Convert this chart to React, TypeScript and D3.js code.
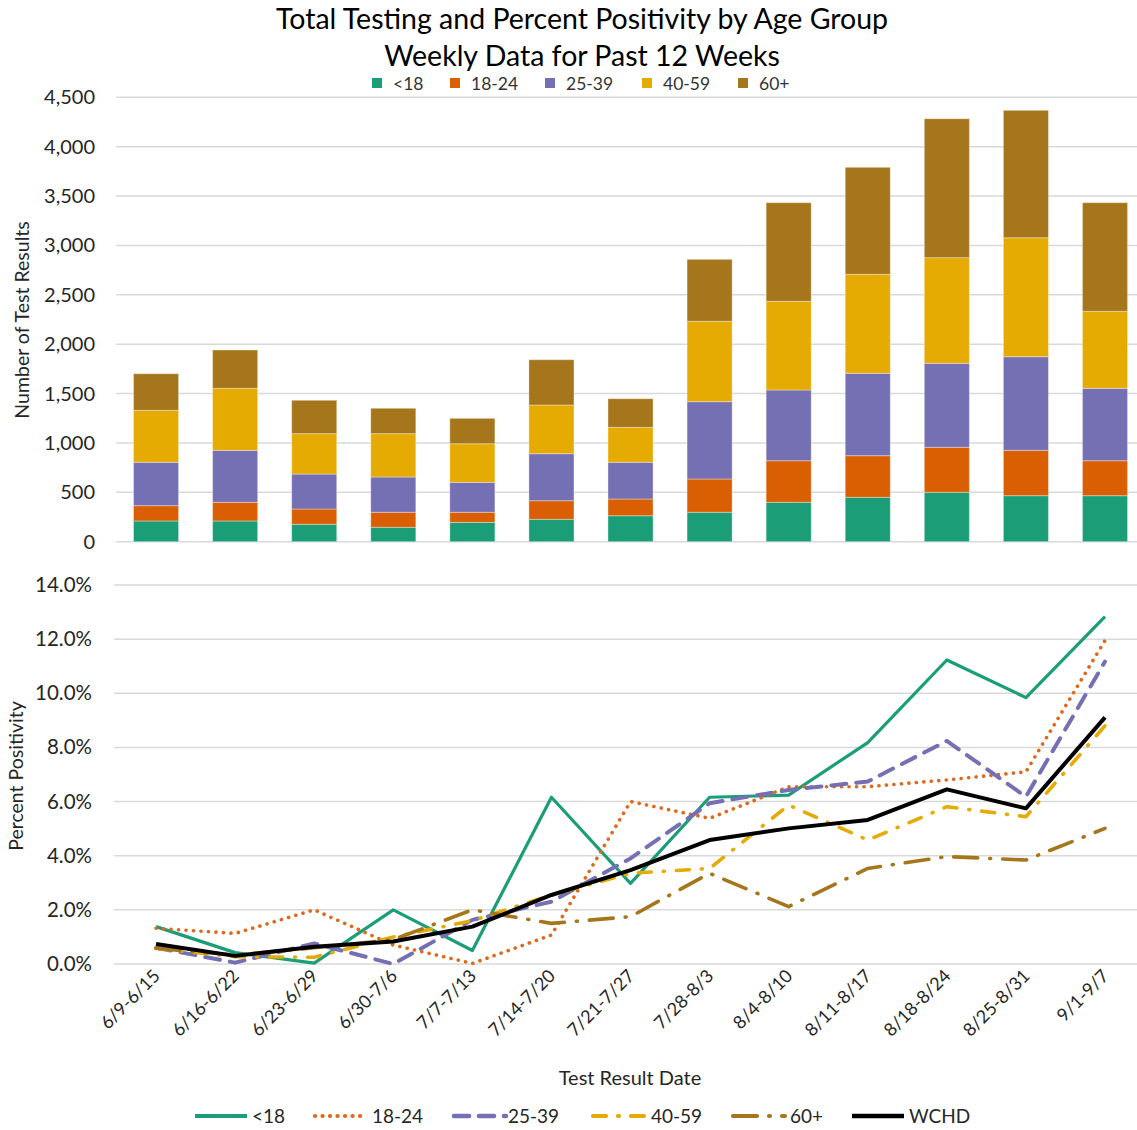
import React from "react";
import * as d3 from "d3";

const weeks = ["6/9-6/15","6/16-6/22","6/23-6/29","6/30-7/6","7/7-7/13","7/14-7/20","7/21-7/27","7/28-8/3","8/4-8/10","8/11-8/17","8/18-8/24","8/25-8/31","9/1-9/7"];
const ageGroups = ["<18","18-24","25-39","40-59","60+"];
const tests_u18 = [210,210,176,146,196,227,263,298,399,450,500,466,466];
const tests_18_24 = [155,189,155,152,102,188,169,337,421,421,456,459,354];
const tests_25_39 = [439,526,354,357,303,476,372,783,716,834,850,948,733];
const tests_40_59 = [526,628,409,439,391,493,354,814,898,1003,1070,1205,780];
const tests_60p = [371,388,338,257,257,459,290,627,999,1083,1407,1290,1100];

const pos_u18 = [1.38,0.42,0.03,2.0,0.5,6.16,2.98,6.16,6.24,8.18,11.23,9.84,12.83];
const pos_18_24 = [1.32,1.13,2.0,0.7,0.02,1.07,6.0,5.38,6.55,6.55,6.8,7.1,11.95];
const pos_25_39 = [0.6,0.05,0.76,0.0,1.63,2.3,3.9,5.94,6.43,6.74,8.24,6.18,11.17];
const pos_40_59 = [0.58,0.27,0.25,1.0,1.6,2.55,3.35,3.53,5.87,4.58,5.81,5.44,8.8];
const pos_60p = [0.58,0.33,0.6,0.9,2.0,1.5,1.75,3.35,2.12,3.53,3.97,3.84,5.01];
const pos_wchd = [0.74,0.3,0.64,0.83,1.38,2.55,3.47,4.58,5.01,5.32,6.45,5.75,9.11];

const barTicks = [0,500,1000,1500,2000,2500,3000,3500,4000,4500];
const pctTicks = [0,2,4,6,8,10,12,14];

const colors = ["#1b9e77","#d95f02","#7570b3","#e6ab02","#a6761d"];
const FONT = "Lato, 'Open Sans', sans-serif";

const lineSeries = [
  { name: "<18", values: pos_u18, color: "#1b9e77", width: 3.2, dash: "", cap: "butt" },
  { name: "18-24", values: pos_18_24, color: "#e0681a", width: 3.6, dash: "0.1 7.4", cap: "round" },
  { name: "25-39", values: pos_25_39, color: "#7570b3", width: 4, dash: "15 10", cap: "round" },
  { name: "40-59", values: pos_40_59, color: "#e6ab02", width: 3.6, dash: "13 12 1 12", cap: "round" },
  { name: "60+", values: pos_60p, color: "#a6761d", width: 3.6, dash: "24 12 1 12", cap: "round" },
  { name: "WCHD", values: pos_wchd, color: "#000000", width: 4, dash: "", cap: "butt" },
];

export default function App() {
  const W = 1137, H = 1130;
  const x = d3.scaleBand<string>().domain(weeks).range([116.5, 116.5 + 13 * 79.08]).paddingInner(0.43).paddingOuter(0.215);
  const cx = (w: string) => (x(w) as number) + x.bandwidth() / 2;
  const yTop = d3.scaleLinear().domain([0, 4500]).range([541.7, 97.3]);
  const yBot = d3.scaleLinear().domain([0, 14]).range([964, 585]);

  const rows = weeks.map((w, i) => ({
    week: w,
    "<18": tests_u18[i], "18-24": tests_18_24[i], "25-39": tests_25_39[i], "40-59": tests_40_59[i], "60+": tests_60p[i],
  }));
  const stacked = d3.stack<any>().keys(ageGroups)(rows);

  const line = d3.line<number>().x((_, i) => cx(weeks[i])).y((d) => yBot(d));

  const topLegendX = [372, 450, 545, 642, 738];
  const botLegend = [
    { lx: 195, tx: 252 },
    { lx: 315, tx: 372 },
    { lx: 454, tx: 508 },
    { lx: 593, tx: 651 },
    { lx: 733, tx: 790 },
    { lx: 852, tx: 909 },
  ];

  return (
    <svg width={W} height={H} style={{ position: "absolute", left: 0, top: 0, background: "#fff" }} fontFamily={FONT}>
      <rect x={0} y={0} width={W} height={H} fill="#fff" />
      {/* Title */}
      <text x={582} y={29} textAnchor="middle" fontSize={28.5} fill="#000">Total Testing and Percent Positivity by Age Group</text>
      <text x={582} y={66} textAnchor="middle" fontSize={28.5} fill="#000">Weekly Data for Past 12 Weeks</text>
      {/* Top legend */}
      {ageGroups.map((g, i) => (
        <g key={g}>
          <rect x={topLegendX[i]} y={78} width={10} height={10} fill={colors[i]} />
          <text x={topLegendX[i] + 21} y={89.5} fontSize={17.5} fill="#333">{g}</text>
        </g>
      ))}
      {/* Top gridlines */}
      {barTicks.map((t) => (
        <g key={t}>
          <line x1={116} x2={W} y1={yTop(t)} y2={yTop(t)} stroke="#d9d9d9" strokeWidth={1.5} />
          <text x={95} y={yTop(t) + 7} textAnchor="end" fontSize={20} fill="#262626">{d3.format(",")(t)}</text>
        </g>
      ))}
      <text transform={`translate(29,320) rotate(-90)`} textAnchor="middle" fontSize={19.5} fill="#262626">Number of Test Results</text>
      {/* Bars */}
      {stacked.map((s, si) => (
        <g key={s.key} fill={colors[si]}>
          {s.map((d, i) => (
            <rect key={i} x={x(weeks[i])} width={x.bandwidth()} y={yTop(d[1])} height={yTop(d[0]) - yTop(d[1])} stroke="#ffffff" strokeOpacity={0.35} strokeWidth={1} />
          ))}
        </g>
      ))}
      {/* Bottom gridlines */}
      {pctTicks.map((t) => (
        <g key={t}>
          <line x1={114} x2={W} y1={yBot(t)} y2={yBot(t)} stroke="#d9d9d9" strokeWidth={1.5} />
          <text x={92} y={yBot(t) + 7} textAnchor="end" fontSize={20.5} fill="#262626">{t.toFixed(1)}%</text>
        </g>
      ))}
      <text transform={`translate(23,776) rotate(-90)`} textAnchor="middle" fontSize={19.5} fill="#262626">Percent Positivity</text>
      {/* Lines */}
      {lineSeries.map((s) => (
        <path key={s.name} d={line(s.values) || ""} fill="none" stroke={s.color} strokeWidth={s.width}
          strokeDasharray={s.dash || undefined} strokeLinecap={s.cap as any} strokeLinejoin="round" />
      ))}
      {/* X labels */}
      {weeks.map((w) => (
        <text key={w} transform={`translate(${cx(w) + 5},${977}) rotate(-45)`} textAnchor="end" fontSize={18} fill="#262626">{w}</text>
      ))}
      <text x={630} y={1085} textAnchor="middle" fontSize={20} fill="#262626">Test Result Date</text>
      {/* Bottom legend */}
      {lineSeries.map((s, i) => (
        <g key={s.name}>
          <line x1={botLegend[i].lx} x2={botLegend[i].lx + 52} y1={1116} y2={1116} stroke={s.color} strokeWidth={s.width + 0.6}
            strokeDasharray={s.dash || undefined} strokeLinecap={s.cap as any} />
          <text x={botLegend[i].tx} y={1123} fontSize={19} fill="#262626">{s.name}</text>
        </g>
      ))}
    </svg>
  );
}
